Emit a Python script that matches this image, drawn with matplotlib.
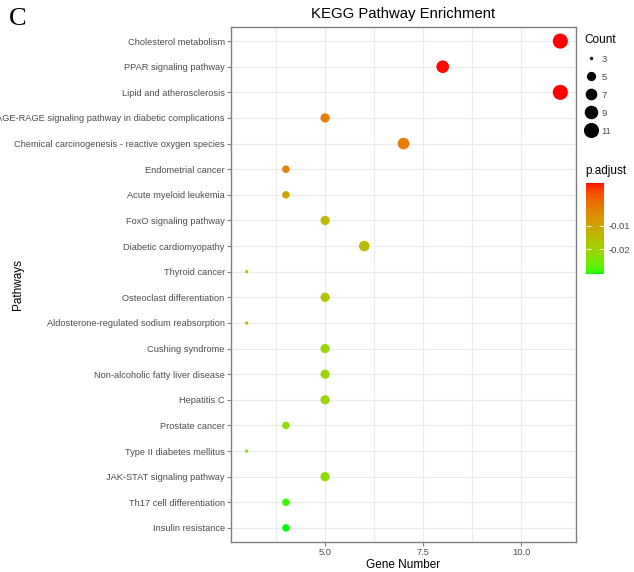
import numpy as np
import matplotlib
matplotlib.use('Agg')
import matplotlib.pyplot as plt
from matplotlib.colors import ListedColormap
from matplotlib.lines import Line2D

plt.rcParams['font.family'] = ['Liberation Sans', 'DejaVu Sans']

pathways = [
    'Cholesterol metabolism',
    'PPAR signaling pathway',
    'Lipid and atherosclerosis',
    'AGE-RAGE signaling pathway in diabetic complications',
    'Chemical carcinogenesis - reactive oxygen species',
    'Endometrial cancer',
    'Acute myeloid leukemia',
    'FoxO signaling pathway',
    'Diabetic cardiomyopathy',
    'Thyroid cancer',
    'Osteoclast differentiation',
    'Aldosterone-regulated sodium reabsorption',
    'Cushing syndrome',
    'Non-alcoholic fatty liver disease',
    'Hepatitis C',
    'Prostate cancer',
    'Type II diabetes mellitus',
    'JAK-STAT signaling pathway',
    'Th17 cell differentiation',
    'Insulin resistance',
]
gene_count = [11, 8, 11, 5, 7, 4, 4, 5, 6, 3, 5, 3, 5, 5, 5, 4, 3, 5, 4, 4]
p_adjust = [0.0080, 0.0078, 0.0080, -0.0030, -0.0028, -0.0032, -0.0095,
            -0.0140, -0.0142, -0.0160, -0.0162, -0.0160, -0.0205, -0.0205,
            -0.0207, -0.0225, -0.0226, -0.0226, -0.0292, -0.0305]

size_breaks = [3, 5, 7, 9, 11]
cbar_ticks = [-0.01, -0.02]


# green -> red gradient interpolated in Lab space (like ggplot's scale_colour_gradient)
def srgb_to_lab(rgb):
    rgb = np.asarray(rgb, float)
    lin = np.where(rgb > 0.04045, ((rgb + 0.055) / 1.055) ** 2.4, rgb / 12.92)
    m = np.array([[0.4124, 0.3576, 0.1805],
                  [0.2126, 0.7152, 0.0722],
                  [0.0193, 0.1192, 0.9505]])
    xyz = m @ lin / np.array([0.95047, 1.0, 1.08883])
    f = np.where(xyz > 0.008856, np.cbrt(xyz), 7.787 * xyz + 16 / 116)
    return np.array([116 * f[1] - 16, 500 * (f[0] - f[1]), 200 * (f[1] - f[2])])


def lab_to_srgb(lab):
    L, a, b = lab
    fy = (L + 16) / 116
    fx = fy + a / 500
    fz = fy - b / 200
    f = np.array([fx, fy, fz])
    xyz = np.where(f ** 3 > 0.008856, f ** 3, (f - 16 / 116) / 7.787)
    xyz = xyz * np.array([0.95047, 1.0, 1.08883])
    m = np.array([[3.2406, -1.5372, -0.4986],
                  [-0.9689, 1.8758, 0.0415],
                  [0.0557, -0.2040, 1.0570]])
    lin = m @ xyz
    rgb = np.where(lin > 0.0031308, 1.055 * np.clip(lin, 0, None) ** (1 / 2.4) - 0.055, 12.92 * lin)
    return np.clip(rgb, 0, 1)


lo = srgb_to_lab([0, 1, 0])
hi = srgb_to_lab([1, 0, 0])
cmap = ListedColormap([lab_to_srgb(lo + t * (hi - lo)) for t in np.linspace(0, 1, 256)])


def count_to_area(c):
    # ggplot-like area scale, range 1..6
    size = 1 + 5 * np.sqrt((np.asarray(c, float) - 3) / 8)
    diam_px = 1.0 + 2.35 * size
    return (diam_px * 0.72) ** 2


fig = plt.figure(figsize=(6.34, 5.72), dpi=100)
ax = fig.add_axes([231 / 634, 1 - 542 / 572, 345 / 634, 515 / 572])

y = np.arange(len(pathways))[::-1]
sc = ax.scatter(gene_count, y, s=count_to_area(gene_count), c=p_adjust, cmap=cmap,
                vmin=-0.0305, vmax=0.0080, linewidths=0, zorder=3)

ax.set_xlim(2.6, 11.4)
ax.set_ylim(-0.55, len(pathways) - 0.45)
ax.set_yticks(y)
ax.set_yticklabels(pathways)
ax.set_xticks([5.0, 7.5, 10.0])
ax.set_xticklabels(['5.0', '7.5', '10.0'])
ax.set_xticks([3.75, 6.25, 8.75], minor=True)
ax.grid(True, which='both', color='#EBEBEB', linewidth=0.8, zorder=0)
ax.set_axisbelow(True)
ax.tick_params(axis='both', which='major', labelsize=6.65, colors='#7F7F7F',
               labelcolor='#4D4D4D', length=3, width=0.8, pad=1.5)
ax.tick_params(axis='x', which='minor', length=0)
for sp in ax.spines.values():
    sp.set_color('#7F7F7F')
    sp.set_linewidth(1.0)

ax.set_xlabel('Gene Number', fontsize=8.5, labelpad=1)
ax.set_ylabel('Pathways', fontsize=8.5)
ax.yaxis.set_label_coords((24 - 231) / 345, 0.5)
ax.set_title('KEGG Pathway Enrichment', fontsize=10.7, pad=6.5)

fig.text(9 / 634, 1 - 19 / 572, 'C', fontsize=19, family='Liberation Serif',
         va='center', ha='left')

# Count legend
handles = [Line2D([], [], marker='o', linestyle='', color='black',
                  markersize=np.sqrt(count_to_area(b)), markeredgewidth=0)
           for b in size_breaks]
leg = fig.legend(handles, [str(b) for b in size_breaks], title='Count',
                 loc='upper left', bbox_to_anchor=(581 / 634, 1 - 30 / 572),
                 frameon=False, fontsize=6.8, title_fontsize=8.5,
                 labelspacing=0.95, handletextpad=0.5, handlelength=1.3,
                 borderaxespad=0)
leg._legend_box.align = 'left'
for t in leg.get_texts():
    t.set_color('#4D4D4D')

# p.adjust colour bar
fig.text(585 / 634, 1 - 171 / 572, 'p.adjust', fontsize=8.5, va='center', ha='left')
cax = fig.add_axes([586 / 634, 1 - 274 / 572, 18 / 634, 91 / 572])
cb = fig.colorbar(sc, cax=cax)
cb.outline.set_visible(False)
cb.set_ticks(cbar_ticks)
cb.set_ticklabels(['-0.01', '-0.02'])
cax.tick_params(length=3.5, width=0.6, color='white', direction='in',
                left=True, labelsize=6.8, labelcolor='#4D4D4D', pad=3)

fig.savefig('out.png', dpi=100)
